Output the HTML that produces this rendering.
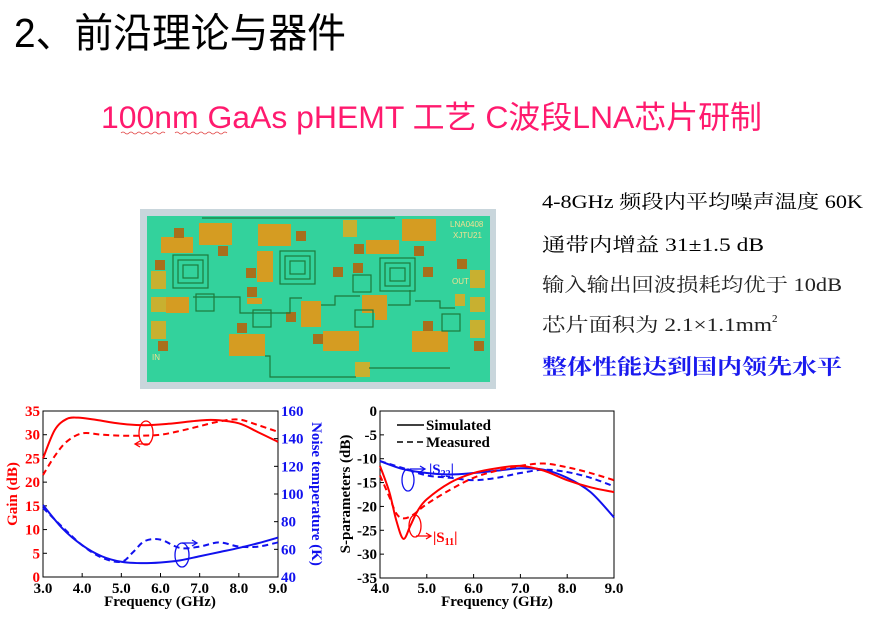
<!DOCTYPE html>
<html><head><meta charset="utf-8"><style>
html,body{margin:0;padding:0;background:#fff;}
svg{display:block;}
text{font-family:"Liberation Serif","Noto Serif CJK SC","Noto Sans CJK SC",serif;}
.s{font-family:"Liberation Sans","Noto Sans CJK SC",sans-serif;}
.tk{font-family:"Liberation Serif",serif;font-weight:bold;font-size:15px;}
</style></head><body>
<svg id="sv" width="878" height="631" viewBox="0 0 878 631" xmlns="http://www.w3.org/2000/svg">
<text class="s" x="14" y="0" font-size="36" textLength="332" lengthAdjust="spacingAndGlyphs" fill="#000" transform="translate(0,47) scale(1,1.12)">2、前沿理论与器件</text>
<text class="s" x="101" y="0" font-size="29" textLength="661" lengthAdjust="spacingAndGlyphs" fill="#ff1a6e" transform="translate(0,128) scale(1,1.08)">100nm GaAs pHEMT 工艺 C波段LNA芯片研制</text>
<path d="M121 133 q2 -2 4 0 t4 0 t4 0 t4 0 t4 0 t4 0 t4 0 t4 0 t4 0 t4 0 t4 0" fill="none" stroke="#e04040" stroke-width="0.8"/>
<path d="M175 133 q2 -2 4 0 t4 0 t4 0 t4 0 t4 0 t4 0 t4 0 t4 0 t4 0 t4 0 t4 0 t4 0 t4 0" fill="none" stroke="#e04040" stroke-width="0.8"/>

<text x="542" y="208" font-size="19" textLength="321" lengthAdjust="spacingAndGlyphs">4-8GHz 频段内平均噪声温度 60K</text>
<text x="542" y="251" font-size="19" textLength="222" lengthAdjust="spacingAndGlyphs">通带内增益 31±1.5 dB</text>
<text x="542" y="291" font-size="19" textLength="300" lengthAdjust="spacingAndGlyphs" fill="#222">输入输出回波损耗均优于 10dB</text>
<text x="542" y="331" font-size="19" textLength="230" lengthAdjust="spacingAndGlyphs" fill="#222">芯片面积为 2.1×1.1mm</text>
<text x="772" y="322" font-size="11">2</text>
<text x="542" y="374" font-size="21" font-weight="bold" textLength="300" lengthAdjust="spacingAndGlyphs" fill="#1a1aee">整体性能达到国内领先水平</text>

<!-- chip -->
<rect x="140" y="209" width="356" height="180" fill="#c9d6dc"/>
<rect x="147" y="216" width="343" height="166" fill="#33d29c"/>
<g fill="#d59c22">
<rect x="161" y="237" width="32" height="16"/><rect x="199" y="223" width="33" height="22"/>
<rect x="258" y="224" width="33" height="22"/><rect x="257" y="251" width="16" height="31"/>
<rect x="366" y="240" width="33" height="14"/><rect x="402" y="219" width="34" height="22"/>
<rect x="166" y="297" width="23" height="16"/><rect x="301" y="301" width="20" height="26"/>
<rect x="362" y="295" width="20" height="18"/><rect x="375" y="295" width="12" height="25"/>
<rect x="229" y="334" width="36" height="22"/><rect x="323" y="331" width="36" height="20"/>
<rect x="412" y="331" width="36" height="21"/><rect x="247" y="298" width="15" height="6"/>
</g>
<g fill="#c8b030">
<rect x="151" y="271" width="15" height="18"/><rect x="151" y="297" width="15" height="15"/>
<rect x="151" y="321" width="15" height="18"/><rect x="343" y="220" width="14" height="17"/>
<rect x="470" y="270" width="15" height="18"/><rect x="470" y="297" width="15" height="15"/>
<rect x="470" y="320" width="15" height="18"/><rect x="355" y="362" width="15" height="15"/>
<rect x="455" y="294" width="10" height="12"/>
</g>
<g fill="#a86f1c">
<rect x="174" y="228" width="10" height="10"/><rect x="218" y="246" width="10" height="10"/>
<rect x="155" y="260" width="10" height="10"/><rect x="246" y="268" width="10" height="10"/>
<rect x="247" y="287" width="10" height="10"/><rect x="296" y="231" width="10" height="10"/>
<rect x="333" y="267" width="10" height="10"/><rect x="353" y="263" width="10" height="10"/>
<rect x="354" y="244" width="10" height="10"/><rect x="414" y="246" width="10" height="10"/>
<rect x="423" y="267" width="10" height="10"/><rect x="457" y="259" width="10" height="10"/>
<rect x="158" y="341" width="10" height="10"/><rect x="237" y="323" width="10" height="10"/>
<rect x="286" y="312" width="10" height="10"/><rect x="313" y="334" width="10" height="10"/>
<rect x="423" y="321" width="10" height="10"/><rect x="474" y="341" width="10" height="10"/>
</g>
<g fill="none" stroke="#1d7a3c" stroke-width="1.2">
<rect x="173" y="255" width="35" height="33"/><rect x="178" y="260" width="25" height="23"/><rect x="183" y="265" width="15" height="13"/>
<rect x="280" y="251" width="35" height="33"/><rect x="285" y="256" width="25" height="23"/><rect x="290" y="261" width="15" height="13"/>
<rect x="380" y="258" width="35" height="33"/><rect x="385" y="263" width="25" height="23"/><rect x="390" y="268" width="15" height="13"/>
<rect x="196" y="294" width="18" height="17"/><rect x="253" y="310" width="18" height="17"/>
<rect x="355" y="310" width="18" height="17"/><rect x="442" y="314" width="18" height="17"/><rect x="353" y="275" width="18" height="17"/>
<path d="M193 297 H240 V313 H290 V298 H302 M321 305 H335 V296 H360 M388 305 H410 V290 M415 301 H440 V308 H455 M265 356 H270 V377 H356 M369 368 H450 M202 218 H395"/>
</g>
<text class="s" x="450" y="227" font-size="8" fill="#f0e090">LNA0408</text>
<text class="s" x="453" y="238" font-size="8" fill="#f0e090">XJTU21</text>
<text class="s" x="452" y="284" font-size="8" fill="#f0e090">OUT</text>
<text class="s" x="152" y="360" font-size="8" fill="#f0e090">IN</text>

<!-- left chart -->
<rect x="43" y="411" width="235" height="166" fill="none" stroke="#000" stroke-width="1"/>
<g id="lt" class="tk"></g>
<text class="tk" x="160" y="606" text-anchor="middle" font-size="14">Frequency (GHz)</text>
<text class="tk" transform="translate(17,494) rotate(-90)" text-anchor="middle" fill="#ff0000" font-size="14">Gain (dB)</text>
<text class="tk" transform="translate(312,494) rotate(90)" text-anchor="middle" fill="#1010ee" font-size="14">Noise temperature (K)</text>
<g id="lc" fill="none" stroke-width="2"></g>
<ellipse cx="146" cy="433" rx="7" ry="12" fill="none" stroke="#f00" stroke-width="1.3"/>
<path d="M150 444 H136 M140 441 L135 444 L140 447" fill="none" stroke="#f00" stroke-width="1.3"/>
<ellipse cx="182" cy="555" rx="7" ry="12" fill="none" stroke="#11e" stroke-width="1.3"/>
<path d="M182 543 H196 M192 540 L197 543 L192 546" fill="none" stroke="#11e" stroke-width="1.3"/>

<!-- right chart -->
<rect x="380" y="411" width="234" height="167" fill="none" stroke="#000" stroke-width="1"/>
<g id="rt" class="tk"></g>
<text class="tk" x="497" y="606" text-anchor="middle" font-size="14">Frequency (GHz)</text>
<text class="tk" transform="translate(350,494) rotate(-90)" text-anchor="middle" font-size="14">S-parameters (dB)</text>
<g id="rc" fill="none" stroke-width="2"></g>
<path d="M397 425 H424" stroke="#000" stroke-width="1.6"/><text class="tk" x="426" y="430" font-size="14">Simulated</text>
<path d="M397 442 H424" stroke="#000" stroke-width="1.6" stroke-dasharray="6,4"/><text class="tk" x="426" y="447" font-size="14">Measured</text>
<ellipse cx="408" cy="480" rx="6" ry="11" fill="none" stroke="#11e" stroke-width="1.3"/>
<path d="M410 469 H424 M420 466 L425 469 L420 472" fill="none" stroke="#11e" stroke-width="1.3"/>
<text class="tk" x="429" y="474" fill="#11e">|S<tspan font-size="10" dy="3">22</tspan><tspan dy="-3">|</tspan></text>
<ellipse cx="415" cy="526" rx="6" ry="11" fill="none" stroke="#f00" stroke-width="1.3"/>
<path d="M416 536 H430 M426 533 L431 536 L426 539" fill="none" stroke="#f00" stroke-width="1.3"/>
<text class="tk" x="433" y="542" fill="#f00">|S<tspan font-size="10" dy="3">11</tspan><tspan dy="-3">|</tspan></text>
</svg>
<script>
var NS="http://www.w3.org/2000/svg";
function el(p,t,a,txt){var e=document.createElementNS(NS,t);for(var k in a)e.setAttribute(k,a[k]);if(txt!=null)e.textContent=txt;p.appendChild(e);return e;}
function sm(pts){var d="M"+pts[0][0]+" "+pts[0][1];for(var i=0;i<pts.length-1;i++){var p0=pts[i-1]||pts[i],p1=pts[i],p2=pts[i+1],p3=pts[i+2]||p2;
d+=" C"+(p1[0]+(p2[0]-p0[0])/6)+" "+(p1[1]+(p2[1]-p0[1])/6)+" "+(p2[0]-(p3[0]-p1[0])/6)+" "+(p2[1]-(p3[1]-p1[1])/6)+" "+p2[0]+" "+p2[1];}return d;}
var lt=document.getElementById("lt"),lc=document.getElementById("lc");
function LX(f){return 43+(f-3)/6*235;}function LY(g){return 577-g/35*166;}function LN(k){return 577-(k-40)/120*166;}
for(var g=0;g<=35;g+=5){el(lt,"text",{x:40,y:LY(g)+5,"text-anchor":"end",fill:"#f00"},g);el(lt,"line",{x1:43,x2:47,y1:LY(g),y2:LY(g),stroke:"#000"});}
for(var k=40;k<=160;k+=20){el(lt,"text",{x:281,y:LN(k)+5,fill:"#11e"},k);el(lt,"line",{x1:274,x2:278,y1:LN(k),y2:LN(k),stroke:"#000"});}
for(var f=3;f<=9;f++){el(lt,"text",{x:LX(f),y:593,"text-anchor":"middle"},f.toFixed(1));el(lt,"line",{x1:LX(f),x2:LX(f),y1:577,y2:573,stroke:"#000"});}
function addL(arr,fy,col,dash){el(lc,"path",{d:sm(arr.map(function(p){return[LX(p[0]),fy(p[1])];})),stroke:col,"stroke-dasharray":dash||"none"});}
addL([[3,25],[3.3,31],[3.6,33.3],[3.9,33.6],[4.3,33.2],[5,32.3],[5.6,32],[6.2,32.3],[7,33],[7.4,33.1],[8,32.4],[8.5,30.5],[9,28.5]],LY,"#f00");
addL([[3,21.5],[3.3,25.5],[3.6,28.5],[4,30.3],[4.5,30],[5,29.8],[5.5,29.8],[6,30],[6.5,30.8],[7,31.8],[7.5,32.8],[8,33.2],[8.5,32],[9,30.6]],LY,"#f00","6,4");
addL([[3,92],[3.5,75],[4,63],[4.5,55],[5,51],[5.5,50],[6,50.5],[6.5,52],[7,55],[7.5,58],[8,61],[8.5,64.5],[9,68.5]],LN,"#11e");
addL([[3,90],[3.5,76],[4,63],[4.5,54],[5,51],[5.3,58],[5.6,66],[6,67],[6.5,61],[7,62],[7.5,65],[8,62],[8.5,62],[9,65]],LN,"#11e","6,4");
var rt=document.getElementById("rt"),rc=document.getElementById("rc");
function RX(f){return 380+(f-4)/5*234;}function RY(s){return 411-s/35*167;}
for(var s=0;s>=-35;s-=5){el(rt,"text",{x:377,y:RY(s)+5,"text-anchor":"end"},s);el(rt,"line",{x1:380,x2:384,y1:RY(s),y2:RY(s),stroke:"#000"});}
for(var f=4;f<=9;f++){el(rt,"text",{x:RX(f),y:593,"text-anchor":"middle"},f.toFixed(1));el(rt,"line",{x1:RX(f),x2:RX(f),y1:578,y2:574,stroke:"#000"});}
function addR(arr,col,dash){el(rc,"path",{d:sm(arr.map(function(p){return[RX(p[0]),RY(p[1])];})),stroke:col,"stroke-dasharray":dash||"none"});}
addR([[4,-10.5],[4.5,-12.2],[5,-13],[5.5,-13.3],[6,-13],[6.5,-12.5],[7,-12],[7.5,-12.3],[8,-14],[8.5,-17],[9,-22.3]],"#11e");
addR([[4,-10.5],[4.5,-12],[5,-13.5],[5.5,-14],[6,-14.5],[6.5,-14],[7,-13],[7.5,-12.3],[8,-12.8],[8.5,-14],[9,-15.8]],"#11e","6,4");
addR([[4,-11.5],[4.2,-17],[4.35,-23],[4.5,-26.8],[4.65,-24],[4.8,-21],[5,-18.5],[5.5,-15],[6,-13],[6.5,-12],[7,-11.5],[7.5,-12.5],[8,-14.5],[8.5,-16],[9,-17]],"#f00");
addR([[4,-13.5],[4.2,-18],[4.35,-21.5],[4.5,-22.5],[4.7,-21.8],[5,-19.5],[5.5,-16.5],[6,-14],[6.5,-12.5],[7,-11.5],[7.5,-11],[8,-11.8],[8.5,-13],[9,-14.5]],"#f00","6,4");
</script>
</body></html>
